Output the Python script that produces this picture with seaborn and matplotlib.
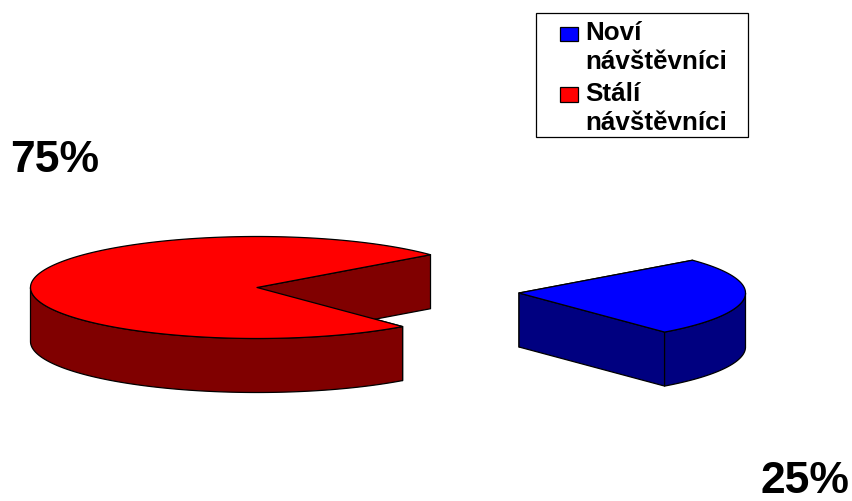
import numpy as np
import matplotlib
matplotlib.use("Agg")
import matplotlib.pyplot as plt
from matplotlib.legend_handler import HandlerBase
from matplotlib.patches import Rectangle
import seaborn as sns

# Visitor shares
categories = ["Noví\nnávštěvníci", "Stálí\nnávštěvníci"]
shares = [25, 75]
share_labels = ["25%", "75%"]
top_colors = ["#0000ff", "#ff0000"]
side_colors = ["#000080", "#800000"]

sns.set_theme(style="white")
plt.rcParams["font.family"] = ["Liberation Sans", "DejaVu Sans"]

fig = plt.figure(figsize=(8.52, 5.02), dpi=100, facecolor="white")
ax = fig.add_axes([0, 0, 1, 1])
ax.set_xlim(0, 852)
ax.set_ylim(502, 0)
ax.axis("off")

RX, RY, DEPTH = 226.5, 51, 54
START = 40
centers = [(519, 294), (257, 288.5)]
EDGE = dict(edgecolor="black", linewidth=0.9, joinstyle="round")


def rim(cx, cy, deg):
    t = np.radians(deg)
    return cx + RX * np.cos(t), cy - RY * np.sin(t)


def slab(cx, cy, a_hi, a_lo, top, side):
    """Draw one extruded wedge spanning a_hi down to a_lo degrees (clockwise)."""
    ang = np.linspace(a_hi, a_lo, 240)
    x, y = rim(cx, cy, ang)

    # cut faces, back to front
    for a in (a_hi, a_lo):
        px, py = rim(cx, cy, a)
        ax.fill([cx, px, px, cx], [cy, py, py + DEPTH, cy + DEPTH], facecolor=side, **EDGE)

    # outer wall: only the part of the rim facing the viewer
    front = np.sin(np.radians(ang)) <= 0
    if front.any():
        fx, fy = x[front], y[front]
        ax.fill(np.r_[fx, fx[::-1]], np.r_[fy, fy[::-1] + DEPTH], facecolor=side, **EDGE)

    ax.fill(np.r_[cx, x], np.r_[cy, y], facecolor=top, **EDGE)


angle = START
spans = []
for share in shares:
    spans.append((angle, angle - 360 * share / sum(shares)))
    angle = spans[-1][1]

# The larger slice sits further back on the left, so it goes first.
for i in (1, 0):
    slab(*centers[i], *spans[i], top_colors[i], side_colors[i])

label_pos = [(760, 493), (10, 172)]
for text, (lx, ly) in zip(share_labels, label_pos):
    ax.text(lx, ly, text, fontsize=32, fontweight="bold", color="black", ha="left", va="baseline")


class FirstLineSwatch(HandlerBase):
    """Square key aligned with the first line of a two-line label."""

    def create_artists(self, legend, orig, xd, yd, w, h, fontsize, trans):
        size = 0.7 * fontsize
        r = Rectangle((w - size, 0.56 * fontsize), size, size * 0.82,
                      facecolor=orig.get_facecolor(), edgecolor="black", linewidth=0.9,
                      transform=trans)
        return [r]


ax.add_patch(Rectangle((536, 14), 212, 124, facecolor="white", edgecolor="black", linewidth=0.9))
handles = [Rectangle((0, 0), 1, 1, facecolor=c) for c in top_colors]
leg = ax.legend(handles, categories, loc="upper left", bbox_to_anchor=(546, 21),
                bbox_transform=ax.transData, frameon=False, borderpad=0, borderaxespad=0,
                prop={"family": "Liberation Sans", "weight": "bold", "size": 18.7},
                labelcolor="black",
                handlelength=1.25, handletextpad=0.27, labelspacing=0.3,
                handler_map={Rectangle: FirstLineSwatch()})
for t in leg.get_texts():
    t.set_linespacing(1.26)

fig.savefig("out.png", dpi=100, facecolor="white")
